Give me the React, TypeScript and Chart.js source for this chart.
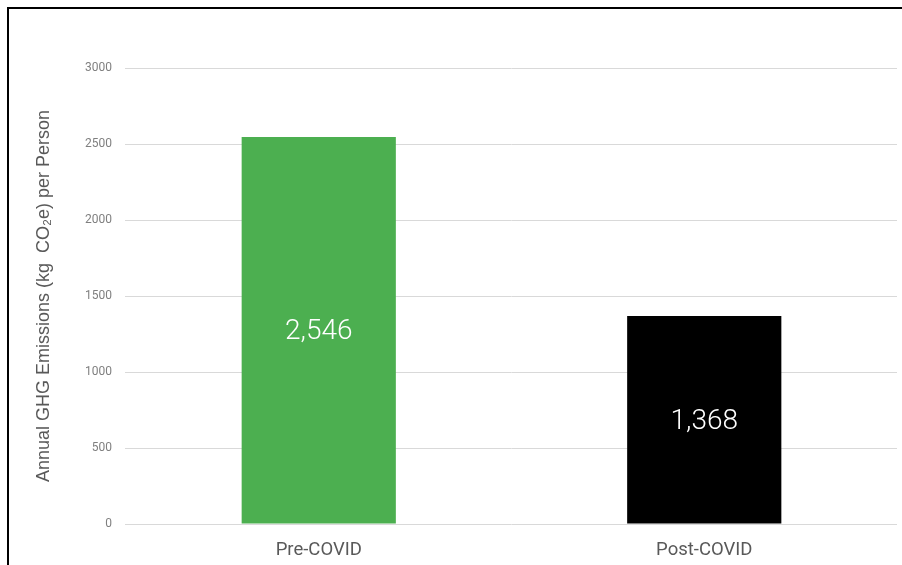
import React, { useEffect, useRef } from "react";
import { Chart, registerables } from "chart.js";

Chart.register(...registerables);

const categories = ["Pre-COVID", "Post-COVID"];
const emissions = [2546, 1368];
const barColors = ["#4CAF50", "#000000"];
const yTicks = [0, 500, 1000, 1500, 2000, 2500, 3000];
const yTitle = "Annual GHG Emissions (kg  CO\u2082e) per Person";

const valueLabels = {
  id: "valueLabels",
  afterDatasetsDraw(chart: any) {
    const { ctx } = chart;
    const meta = chart.getDatasetMeta(0);
    ctx.save();
    ctx.fillStyle = "#ffffff";
    ctx.font = "300 28px Roboto";
    ctx.textAlign = "center";
    ctx.textBaseline = "middle";
    meta.data.forEach((bar: any, i: number) => {
      const v = chart.data.datasets[0].data[i] as number;
      const yc = (bar.y + bar.base) / 2 + 2;
      ctx.fillText(v.toLocaleString("en-US"), bar.x, yc);
    });
    ctx.restore();
  },
};

export default function App() {
  const ref = useRef<HTMLCanvasElement>(null);
  useEffect(() => {
    if (!ref.current) return;
    const chart = new Chart(ref.current, {
      type: "bar",
      data: {
        labels: categories,
        datasets: [
          {
            data: emissions,
            backgroundColor: barColors,
            barPercentage: 0.4,
            categoryPercentage: 1,
          },
        ],
      },
      options: {
        animation: false,
        responsive: false,
        maintainAspectRatio: false,
        layout: { padding: { top: 68, right: 5, bottom: 0, left: 0 } },
        plugins: { legend: { display: false }, tooltip: { enabled: false } },
        scales: {
          x: {
            grid: { display: false, drawTicks: false },
            border: { display: false },
            ticks: {
              color: "#595959",
              font: { family: "Roboto", size: 18.5 },
              padding: 15,
            },
            afterFit(scale: any) {
              scale.height = 41;
            },
          },
          y: {
            min: 0,
            max: 3000,
            afterBuildTicks(scale: any) {
              scale.ticks = yTicks.map((v) => ({ value: v }));
            },
            grid: { color: "#d9d9d9", lineWidth: 1, tickLength: 1 },
            border: { display: false },
            ticks: {
              color: "#7f7f7f",
              font: { family: "Roboto", size: 12 },
              padding: 13,
              callback: (v: any) => String(v),
            },
            title: {
              display: true,
              text: yTitle,
              color: "#595959",
              font: { family: "Liberation Sans", size: 18, weight: "normal" },
              padding: { top: 33, bottom: 0 },
            },
            afterFit(scale: any) {
              scale.width = 126;
            },
          },
        },
      },
      plugins: [valueLabels],
    });
    return () => chart.destroy();
  }, []);
  return (
    <div style={{ position: "fixed", left: 0, top: 0, width: 902, height: 565, background: "#fff", overflow: "hidden" }}>
      <canvas ref={ref} width={902} height={565} style={{ position: "absolute", left: 0, top: 0, width: 902, height: 565 }} />
      <div
        style={{
          position: "absolute",
          left: 7,
          top: 7,
          width: 902,
          height: 565,
          borderTop: "2px solid #000",
          borderLeft: "2px solid #000",
          pointerEvents: "none",
        }}
      />
    </div>
  );
}
